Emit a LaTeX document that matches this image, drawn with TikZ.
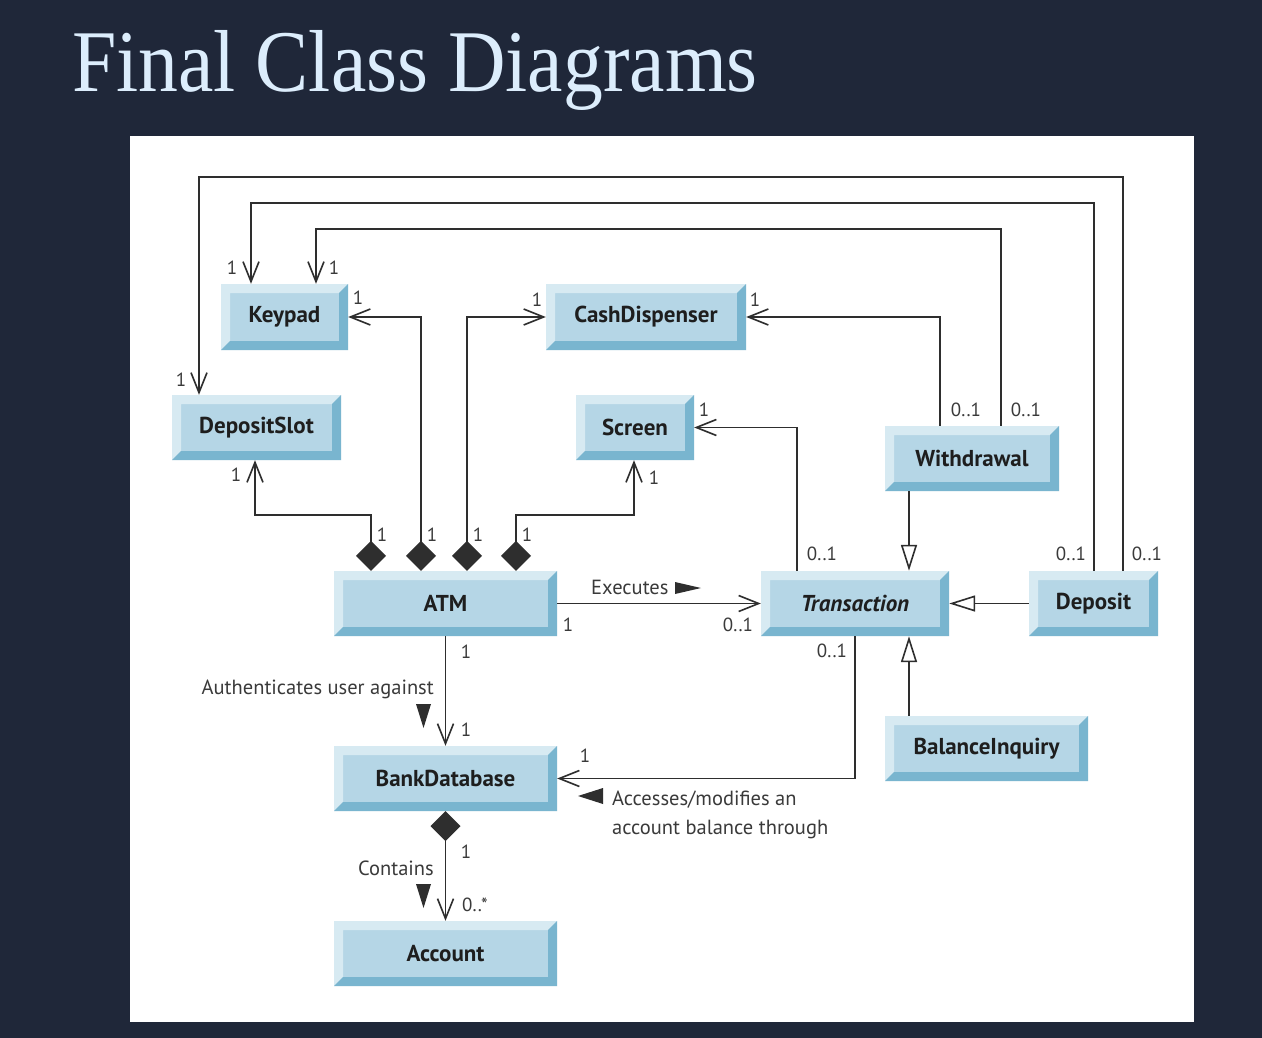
\documentclass[tikz,border=0pt]{standalone}
\usepackage{graphicx}
\usepackage{fontspec}
\setmainfont{PT Sans}
\newfontfamily\titlefont{Liberation Serif}
\usetikzlibrary{arrows.meta}

\definecolor{slidebg}{HTML}{1F2739}
\definecolor{titlefg}{HTML}{DCEDFC}
\definecolor{faceblue}{HTML}{B5D6E6}
\definecolor{lightbevel}{HTML}{D7EAF2}
\definecolor{darkbevel}{HTML}{79B5CF}
\definecolor{inkline}{HTML}{2E2E2E}
\definecolor{labelgray}{HTML}{3A3A3A}
\definecolor{classink}{HTML}{1E1E1E}

\tikzset{
  umlclass/.style={
    fill=faceblue, inner sep=0pt, text=classink,
    font=\fontsize{23}{25}\selectfont\bfseries,
    path picture={
      \fill[lightbevel]
        (path picture bounding box.north west) --
        (path picture bounding box.north east) --
        ([shift={(-9pt,-9pt)}]path picture bounding box.north east) --
        ([shift={(9pt,-9pt)}]path picture bounding box.north west) --
        ([shift={(9pt,9pt)}]path picture bounding box.south west) --
        (path picture bounding box.south west) -- cycle;
      \fill[darkbevel]
        (path picture bounding box.north east) --
        (path picture bounding box.south east) --
        (path picture bounding box.south west) --
        ([shift={(9pt,9pt)}]path picture bounding box.south west) --
        ([shift={(-9pt,9pt)}]path picture bounding box.south east) --
        ([shift={(-9pt,-9pt)}]path picture bounding box.north east) -- cycle;
    }},
  mult/.style={font=\fontsize{19}{21}\selectfont, text=labelgray, inner sep=0pt},
  note/.style={font=\fontsize{20.5}{22}\selectfont, text=labelgray, inner sep=0pt},
  link/.style={draw=inkline, line width=1.6pt},
  assoc/.style={link, -{Straight Barb[length=20pt,width=16pt]}},
  compo/.style={link, {Diamond[length=30pt,width=30pt]}-{Straight Barb[length=20pt,width=16pt]}},
  gen/.style={link, -{Triangle[open,length=26pt,width=16pt,fill=white]}},
  dirmark/.style={fill=inkline}
}

\begin{document}
\begin{tikzpicture}[x=1pt,y=-1pt]
  % slide background and white drawing area
  \fill[slidebg] (0,0) rectangle (1262,1038);
  \useasboundingbox (0,0) rectangle (1262,1038);
  \fill[white] (130,136) rectangle (1194,1022);

  % title
  \node[anchor=base west, inner sep=0pt, text=titlefg,
        font=\titlefont\fontsize{88}{90}\selectfont] (title) at (72,92)
        {\scalebox{0.905}[1]{Final Class Diagrams}};

  % classes
  \node[umlclass, minimum width=127pt, minimum height=66pt] (keypad)      at (284.5,317)   {Keypad};
  \node[umlclass, minimum width=200pt, minimum height=66pt] (cashdisp)    at (646,317)     {CashDispenser};
  \node[umlclass, minimum width=169pt, minimum height=65pt] (depslot)     at (256.5,427.5) {DepositSlot};
  \node[umlclass, minimum width=118pt, minimum height=65pt] (screen)      at (635,427.5)   {Screen};
  \node[umlclass, minimum width=174pt, minimum height=65pt] (withdrawal)  at (972,458.5)   {Withdrawal};
  \node[umlclass, minimum width=223pt, minimum height=65pt] (atm)         at (445.5,603.5) {ATM};
  \node[umlclass, minimum width=188pt, minimum height=65pt] (transaction) at (855,603.5)   {\itshape Transaction};
  \node[umlclass, minimum width=129pt, minimum height=65pt] (deposit)     at (1093.5,603.5){Deposit};
  \node[umlclass, minimum width=223pt, minimum height=65pt] (bankdb)      at (445.5,778.5) {BankDatabase};
  \node[umlclass, minimum width=203pt, minimum height=65pt] (balinq)      at (986.5,748.5) {BalanceInquiry};
  \node[umlclass, minimum width=223pt, minimum height=65pt] (account)     at (445.5,953.5) {Account};

  % ATM compositions
  \draw[compo] ([xshift=-74.5pt]atm.north) -- ++(0,-56) -| ([xshift=-1.5pt]depslot.south);
  \draw[compo] ([xshift=-24.5pt]atm.north) |- (keypad.east);
  \draw[compo] ([xshift=21.5pt]atm.north) |- (cashdisp.west);
  \draw[compo] ([xshift=70.5pt]atm.north) -- ++(0,-56) -| ([xshift=-1pt]screen.south);

  % associations of the transactions
  \draw[assoc] ([xshift=29.5pt]deposit.north) -- ++(0,-394) -| ([xshift=-57.5pt]depslot.north);
  \draw[assoc] ([xshift=0.5pt]deposit.north) -- ++(0,-368) -| ([xshift=-33.5pt]keypad.north);
  \draw[assoc] ([xshift=29pt]withdrawal.north) -- ++(0,-197) -| ([xshift=31.5pt]keypad.north);
  \draw[assoc] ([xshift=-32pt]withdrawal.north) |- (cashdisp.east);
  \draw[assoc] ([xshift=-58pt]transaction.north) |- (screen.east);
  \draw[assoc] (atm.east) -- (transaction.west);
  \draw[assoc] (transaction.south) |- (bankdb.east);
  \draw[assoc] (atm.south) -- (bankdb.north);
  \draw[compo] (bankdb.south) -- (account.north);

  % generalizations
  \draw[gen] ([xshift=-63pt]withdrawal.south) -- ([xshift=-63pt]withdrawal.south |- transaction.north);
  \draw[gen] (deposit.west) -- (transaction.east);
  \draw[gen] ([xshift=-77.5pt]balinq.north) -- ([xshift=-77.5pt]balinq.north |- transaction.south);

  % multiplicities
  \node[mult] (m01) at (232,268) {1};
  \node[mult] (m02) at (334,268) {1};
  \node[mult] (m03) at (358,298) {1};
  \node[mult] (m04) at (181,380) {1};
  \node[mult] (m05) at (537,300) {1};
  \node[mult] (m06) at (755,300) {1};
  \node[mult] (m07) at (704,410) {1};
  \node[mult] (m08) at (236,475) {1};
  \node[mult] (m09) at (654,478) {1};
  \node[mult] (m10) at (382,535) {1};
  \node[mult] (m11) at (432,535) {1};
  \node[mult] (m12) at (478,535) {1};
  \node[mult] (m13) at (527,535) {1};
  \node[mult] (m14) at (568,625) {1};
  \node[mult] (m15) at (466,652) {1};
  \node[mult] (m16) at (466,730) {1};
  \node[mult] (m17) at (585,756) {1};
  \node[mult] (m18) at (466,852) {1};
  \node[mult] (m19) at (966,410) {0..1};
  \node[mult] (m20) at (1026,410) {0..1};
  \node[mult] (m21) at (822,554) {0..1};
  \node[mult] (m22) at (1071,554) {0..1};
  \node[mult] (m23) at (1147,554) {0..1};
  \node[mult] (m24) at (738,625) {0..1};
  \node[mult] (m25) at (832,651) {0..1};
  \node[mult] (m26) at (475,905) {0..*};

  % association names with reading direction
  \node[note, anchor=base west] (lexec) at (591,594) {Executes};
  \fill[dirmark] (675,582) -- (701,588) -- (675,594) -- cycle;
  \node[note, anchor=base east] (lauth) at (434,694) {Authenticates user against};
  \fill[dirmark] (416,704) -- (431,704) -- (423.5,728) -- cycle;
  \node[note, anchor=base east] (lcont) at (434,875) {Contains};
  \fill[dirmark] (416,884) -- (431,884) -- (423.5,908) -- cycle;
  \node[note, anchor=base west] (lacc1) at (612,805) {Accesses/modifies an};
  \node[note, anchor=base west] (lacc2) at (612,834) {account balance through};
  \fill[dirmark] (578,796) -- (603,788) -- (603,804) -- cycle;
\end{tikzpicture}
\end{document}
